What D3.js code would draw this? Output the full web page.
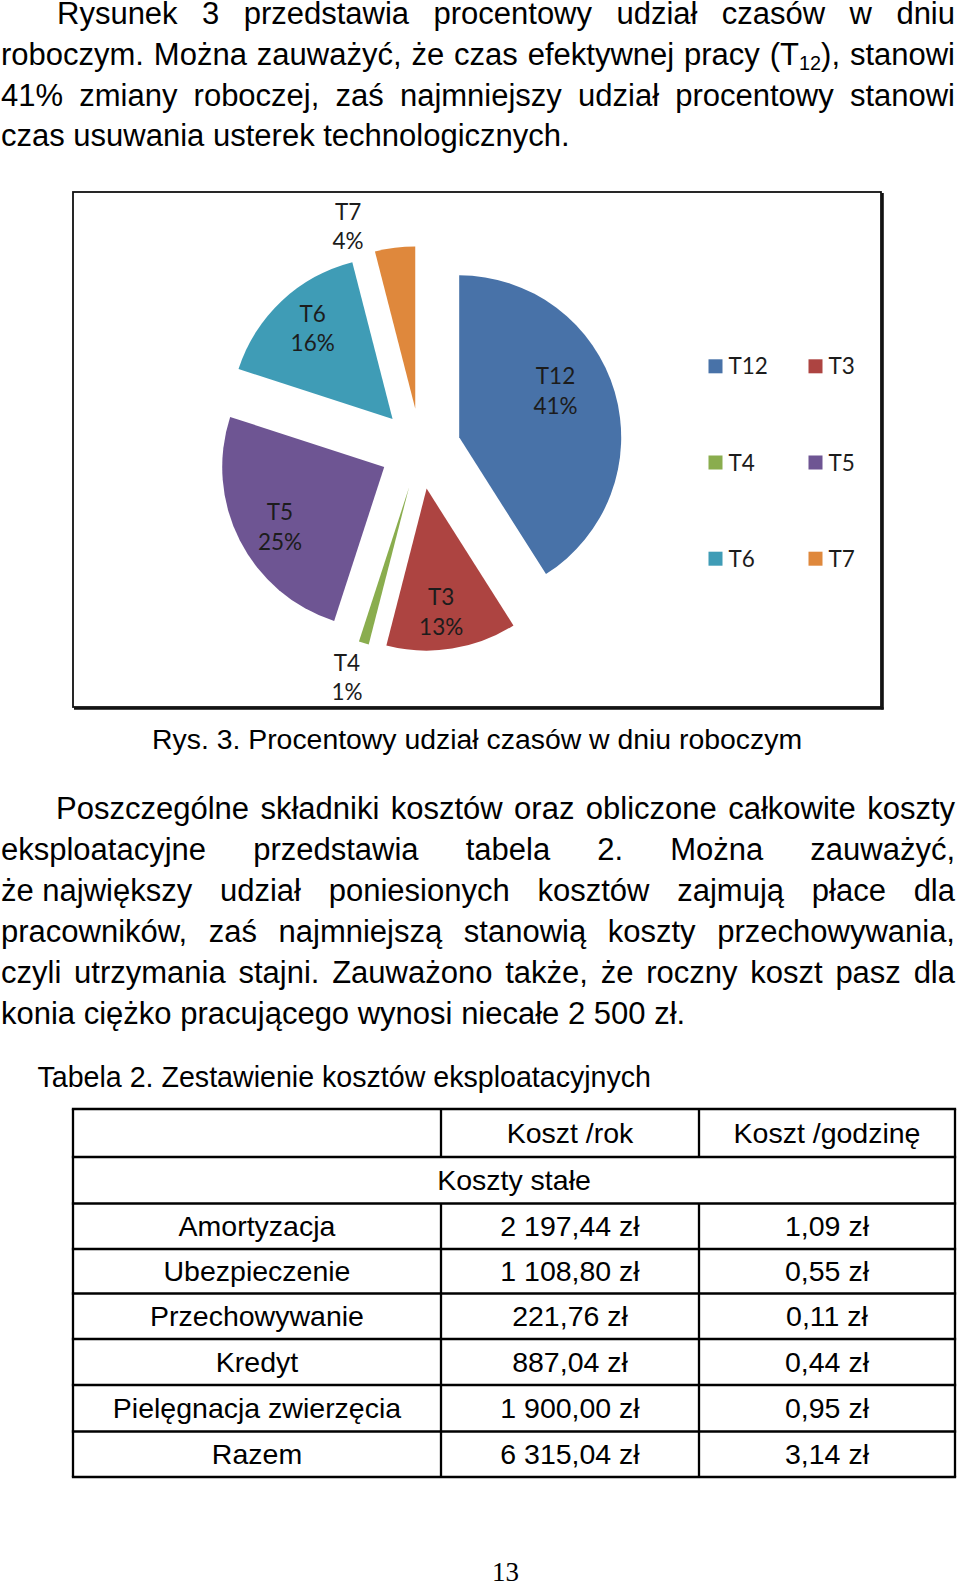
<!DOCTYPE html>
<html><head><meta charset="utf-8">
<script src="https://cdn.jsdelivr.net/npm/d3@7/dist/d3.min.js"></script>
<style>html,body{margin:0;padding:0;background:#fff;}svg{display:block}</style>
</head><body>
<script>
// ---------- data ----------
const categories = ["T12", "T3", "T4", "T5", "T6", "T7"];
const percents = [41, 13, 1, 25, 16, 4];
const sliceColors = ["#4872A8", "#AD4441", "#8AAD4E", "#6E5593", "#3F9CB6", "#DF883C"];

const para1Lines = [
  "Rysunek 3 przedstawia procentowy udział czasów w dniu",
  "roboczym. Można zauważyć, że czas efektywnej pracy (T_{12}), stanowi",
  "41% zmiany roboczej, zaś najmniejszy udział procentowy stanowi",
  "czas usuwania usterek technologicznych."
];
const para2Lines = [
  "Poszczególne składniki kosztów oraz obliczone całkowite koszty",
  "eksploatacyjne przedstawia tabela 2. Można zauważyć,",
  "że\u00A0największy udział poniesionych kosztów zajmują płace dla",
  "pracowników, zaś najmniejszą stanowią koszty przechowywania,",
  "czyli utrzymania stajni. Zauważono także, że roczny koszt pasz dla",
  "konia ciężko pracującego wynosi niecałe 2 500 zł."
];
const figCaption = "Rys. 3. Procentowy udział czasów w dniu roboczym";
const tableTitle = "Tabela 2. Zestawienie kosztów eksploatacyjnych";
const tableHeader = ["", "Koszt /rok", "Koszt /godzinę"];
const tableSection = "Koszty stałe";
const rowLabels = ["Amortyzacja", "Ubezpieczenie", "Przechowywanie", "Kredyt", "Pielęgnacja zwierzęcia", "Razem"];
const costPerYear = ["2 197,44 zł", "1 108,80 zł", "221,76 zł", "887,04 zł", "1 900,00 zł", "6 315,04 zł"];
const costPerHour = ["1,09 zł", "0,55 zł", "0,11 zł", "0,44 zł", "0,95 zł", "3,14 zł"];
const pageNumber = "13";

// ---------- layout ----------
const W = 960, H = 1587;
const SANS = "'Liberation Sans', Arial, sans-serif";
const CHART_FONT = "Lato, 'Open Sans', sans-serif";
const svg = d3.select("body").append("svg").attr("width", W).attr("height", H);
svg.append("rect").attr("width", W).attr("height", H).attr("fill", "#fff");

function drawLine(words, x0, x1, y, size, justify) {
  const g = svg.append("g");
  const nodes = words.map(w => {
    const t = g.append("text").attr("y", y).attr("font-size", size)
      .attr("font-family", SANS).attr("fill", "#000");
    const parts = w.split(/(_\{[^}]*\})/).filter(s => s.length);
    let shifted = 0;
    parts.forEach(p => {
      if (p.startsWith("_{")) {
        t.append("tspan").attr("font-size", size * 0.64).attr("dy", size * 0.18).text(p.slice(2, -1));
        shifted = size * 0.18;
      } else {
        const ts = t.append("tspan").text(p);
        if (shifted) { ts.attr("dy", -shifted); shifted = 0; }
      }
    });
    return t;
  });
  const widths = nodes.map(n => n.node().getComputedTextLength());
  const total = d3.sum(widths);
  const gap = justify && words.length > 1 ? (x1 - x0 - total) / (words.length - 1) : size * 0.278;
  let x = x0;
  nodes.forEach((n, i) => { n.attr("x", x); x += widths[i] + gap; });
}

function drawParagraph(lines, indent, x1, y0, lh, size) {
  lines.forEach((line, i) => {
    const last = i === lines.length - 1;
    drawLine(line.split(" "), i === 0 ? indent : 1, x1, y0 + i * lh, size, !last);
  });
}

drawParagraph(para1Lines, 57, 955, 24, 40.8, 31);
drawParagraph(para2Lines, 56, 955, 818.5, 41.0, 31);

svg.append("text").attr("x", 152).attr("y", 748.5).attr("font-family", SANS)
  .attr("font-size", 28.4).text(figCaption);
svg.append("text").attr("x", 37.5).attr("y", 1087).attr("font-family", SANS)
  .attr("font-size", 28.6).text(tableTitle);

// ---------- chart frame ----------
const frame = { x: 73, y: 192, w: 808, h: 515 };
svg.append("rect").attr("x", frame.x).attr("y", frame.y).attr("width", frame.w).attr("height", frame.h)
  .attr("fill", "#fff").attr("stroke", "#111").attr("stroke-width", 1.8);
svg.append("line").attr("x1", frame.x + frame.w + 1.5).attr("x2", frame.x + frame.w + 1.5)
  .attr("y1", frame.y + 1).attr("y2", frame.y + frame.h + 2.6).attr("stroke", "#111").attr("stroke-width", 2.6);
svg.append("line").attr("x1", frame.x + 1).attr("x2", frame.x + frame.w + 2.6)
  .attr("y1", frame.y + frame.h + 1.5).attr("y2", frame.y + frame.h + 1.5).attr("stroke", "#111").attr("stroke-width", 2.6);

// ---------- pie ----------
const cx = 420.3, cy = 448.6, R = 162, EXPLODE = 40.5;
const pieData = categories.map((c, i) => ({ name: c, value: percents[i], color: sliceColors[i] }));
const pie = d3.pie().sort(null).value(d => d.value).startAngle(0).endAngle(2 * Math.PI);
const arcs = pie(pieData);
const arc = d3.arc().innerRadius(0).outerRadius(R);
const dir = a => [Math.sin(a), -Math.cos(a)];
const pg = svg.append("g").attr("transform", `translate(${cx},${cy})`);
pg.selectAll("path.slice").data(arcs).join("path").attr("class", "slice")
  .attr("d", arc).attr("fill", d => d.data.color)
  .attr("transform", d => {
    const [dx, dy] = dir((d.startAngle + d.endAngle) / 2);
    return `translate(${dx * EXPLODE},${dy * EXPLODE})`;
  });

// label placement (radius factor from slice apex, angular nudge in degrees)
const labelRadius = [0.64, 0.816, 1.28, 0.768, 0.71, 1.152];
const labelNudge = [-5.5, 2.7, 1.2, -6.1, -0.8, -13.9];
const LS = 22.5, LLH = 29.3;
arcs.forEach((d, i) => {
  const mid = (d.startAngle + d.endAngle) / 2;
  const [ex, ey] = dir(mid);
  const [lx, ly] = dir(mid + labelNudge[i] * Math.PI / 180);
  const x = ex * EXPLODE + lx * R * labelRadius[i];
  const y = ey * EXPLODE + ly * R * labelRadius[i];
  const t = pg.append("text").attr("text-anchor", "middle").attr("font-family", CHART_FONT)
    .attr("font-size", LS).attr("fill", "#1c1c1c");
  t.append("tspan").attr("x", x).attr("y", y - LLH / 2).text(d.data.name);
  t.append("tspan").attr("x", x).attr("y", y + LLH / 2).text(d.data.value + "%");
});

// ---------- legend ----------
const legCol = d3.scalePoint().domain([0, 1]).range([708.5, 808.5]);
const legRow = d3.scalePoint().domain([0, 1, 2]).range([366.3, 558.7]);
const lg = svg.append("g");
pieData.forEach((d, i) => {
  const x = legCol(i % 2), yc = legRow(Math.floor(i / 2));
  lg.append("rect").attr("x", x).attr("y", yc - 7).attr("width", 14).attr("height", 14).attr("fill", d.color);
  lg.append("text").attr("x", x + 20).attr("y", yc + 8).attr("font-family", CHART_FONT)
    .attr("font-size", LS).attr("fill", "#1c1c1c").text(d.name);
});

// ---------- table ----------
const colX = [73, 441, 699, 955];
const rowY = [1109, 1157, 1203.5, 1249, 1293.5, 1339, 1385, 1431.5, 1477];
const TS = 28.5;
const tg = svg.append("g");
const cell = (txt, x, r) => tg.append("text").attr("x", x).attr("y", (rowY[r] + rowY[r + 1]) / 2 + 10)
  .attr("text-anchor", "middle").attr("font-family", SANS).attr("font-size", TS).text(txt);
const colMid = c => (colX[c] + colX[c + 1]) / 2;
tableHeader.forEach((h, c) => { if (h) cell(h, colMid(c), 0); });
cell(tableSection, (colX[0] + colX[3]) / 2, 1);
rowLabels.forEach((lab, i) => {
  cell(lab, colMid(0), i + 2);
  cell(costPerYear[i], colMid(1), i + 2);
  cell(costPerHour[i], colMid(2), i + 2);
});
const LW = 2.3;
rowY.forEach(y => tg.append("line").attr("x1", colX[0] - LW / 2).attr("x2", colX[3] + LW / 2)
  .attr("y1", y).attr("y2", y).attr("stroke", "#000").attr("stroke-width", LW));
[colX[0], colX[3]].forEach(x => tg.append("line").attr("x1", x).attr("x2", x)
  .attr("y1", rowY[0]).attr("y2", rowY[rowY.length - 1]).attr("stroke", "#000").attr("stroke-width", LW));
[colX[1], colX[2]].forEach(x => {
  tg.append("line").attr("x1", x).attr("x2", x).attr("y1", rowY[0]).attr("y2", rowY[1])
    .attr("stroke", "#000").attr("stroke-width", LW);
  tg.append("line").attr("x1", x).attr("x2", x).attr("y1", rowY[2]).attr("y2", rowY[rowY.length - 1])
    .attr("stroke", "#000").attr("stroke-width", LW);
});

// ---------- page number ----------
svg.append("text").attr("x", 505.5).attr("y", 1581).attr("text-anchor", "middle")
  .attr("font-family", "'Liberation Serif', 'Times New Roman', serif").attr("font-size", 27).text(pageNumber);
</script>
</body></html>
